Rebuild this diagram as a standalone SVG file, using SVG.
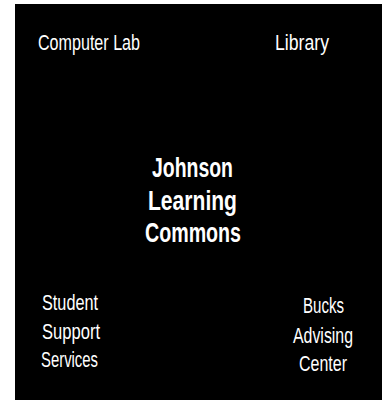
<svg xmlns="http://www.w3.org/2000/svg" width="382" height="400" viewBox="0 0 382 400">
  <style>
    .lbl { font-family: "Liberation Sans Narrow", "Liberation Sans", Arial, sans-serif; font-size: 22px; fill: #ffffff; }
    .main { font-family: "Liberation Sans Narrow", "Liberation Sans", Arial, sans-serif; font-size: 27px; font-weight: bold; fill: #ffffff; }
  </style>
  <rect x="0" y="0" width="382" height="400" fill="#ffffff"/>
  <rect x="15" y="4" width="367" height="396" fill="#000000"/>
  <g id="connectors"/>
  <g id="computer-lab">
    <text class="lbl" x="38" y="50" textLength="102" lengthAdjust="spacingAndGlyphs">Computer Lab</text>
  </g>
  <g id="library">
    <text class="lbl" x="275" y="50" textLength="54" lengthAdjust="spacingAndGlyphs">Library</text>
  </g>
  <g id="johnson-learning-commons">
    <text class="main" x="152" y="177" textLength="81" lengthAdjust="spacingAndGlyphs">Johnson</text>
    <text class="main" x="148" y="209.5" textLength="89" lengthAdjust="spacingAndGlyphs">Learning</text>
    <text class="main" x="145" y="242" textLength="96" lengthAdjust="spacingAndGlyphs">Commons</text>
  </g>
  <g id="student-support-services">
    <text class="lbl" x="42" y="310" textLength="56" lengthAdjust="spacingAndGlyphs">Student</text>
    <text class="lbl" x="42" y="339" textLength="58" lengthAdjust="spacingAndGlyphs">Support</text>
    <text class="lbl" x="41" y="367" textLength="57" lengthAdjust="spacingAndGlyphs">Services</text>
  </g>
  <g id="bucks-advising-center">
    <text class="lbl" x="303" y="313" textLength="41" lengthAdjust="spacingAndGlyphs">Bucks</text>
    <text class="lbl" x="293" y="342.5" textLength="60" lengthAdjust="spacingAndGlyphs">Advising</text>
    <text class="lbl" x="299" y="371" textLength="48" lengthAdjust="spacingAndGlyphs">Center</text>
  </g>
</svg>
